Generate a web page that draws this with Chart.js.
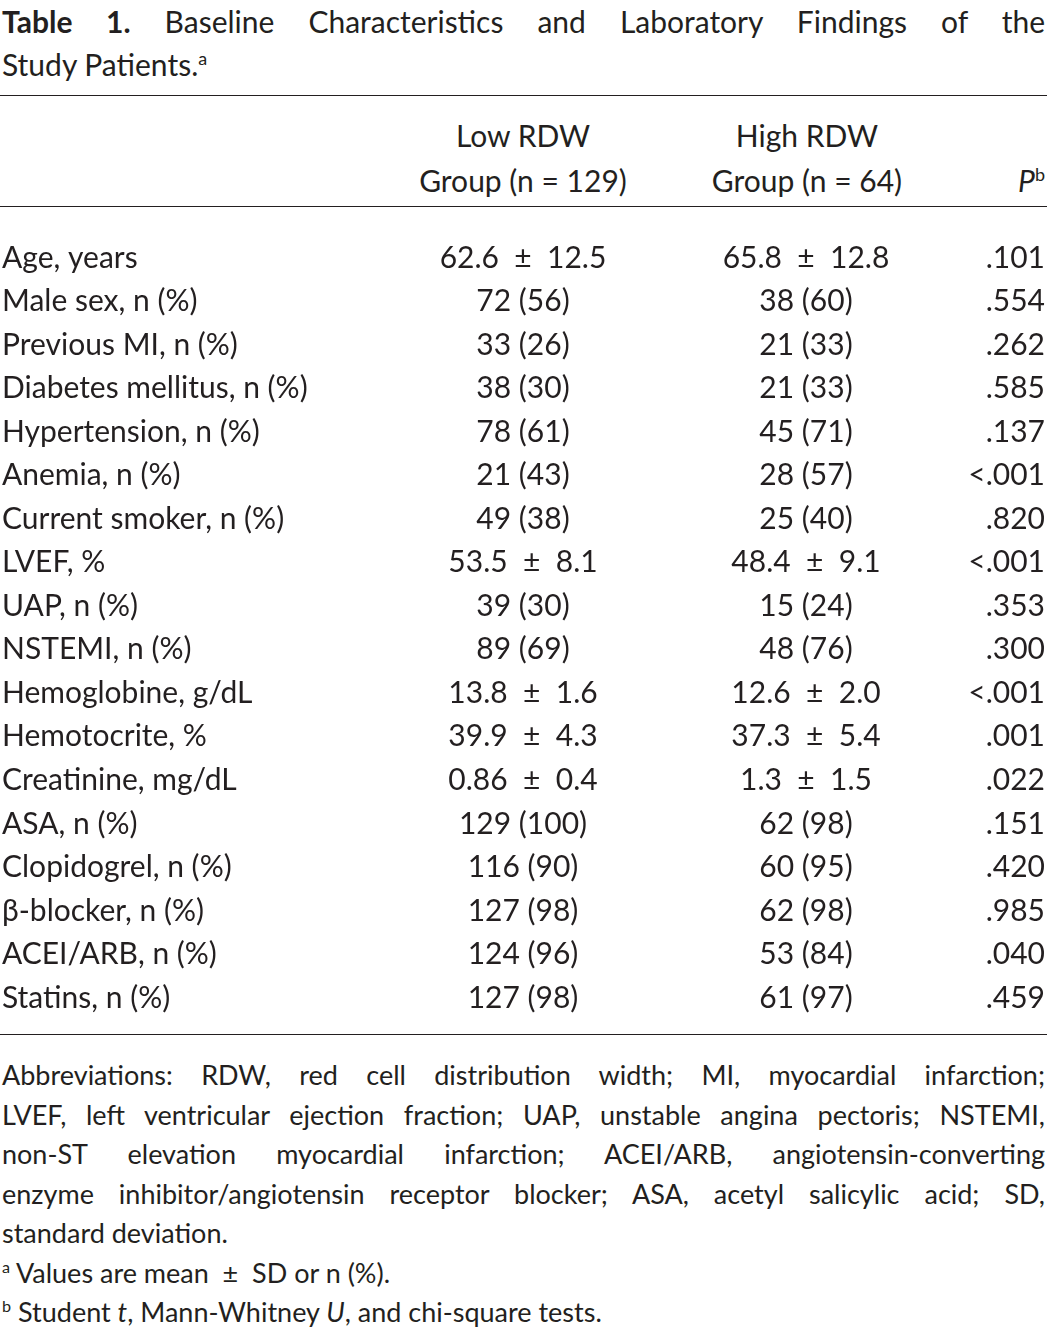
<!DOCTYPE html>
<html>
<head>
<meta charset="utf-8">
<script src="https://cdn.jsdelivr.net/npm/chart.js@4"></script>
<style>
  body { margin: 0; background: #fff; font-family: Lato, "Open Sans", sans-serif; color: #231f20; }
  #page { position: relative; width: 1047px; height: 1329px; }
  #title { position: absolute; left: 2px; top: 0; width: 1043px; font-size: 30px; line-height: 43px; }
  .j { display: block; text-align: justify; text-align-last: justify; white-space: nowrap; }
  .rule { position: absolute; left: 0; width: 1047px; border-top: 1.5px solid #231f20; }
  .hdr { position: absolute; font-size: 30px; line-height: 45px; text-align: center; }
  #wrap { position: absolute; left: 0; top: 207px; width: 1047px; height: 828px; }
  #notes { position: absolute; left: 2px; top: 1055px; width: 1043px; font-size: 27px; line-height: 39.5px; }
  #notes .j { white-space: normal; }
  sup { font-size: 60%; line-height: 0; }
</style>
</head>
<body>
<div id="page">
  <div id="title"><span class="j"><b>Table 1.</b> Baseline Characteristics and Laboratory Findings of the</span>Study Patients.<sup>a</sup></div>
  <div class="rule" style="top:95px"></div>
  <div class="hdr" style="left:373px;width:300px;top:113px">Low RDW<br>Group (n = 129)</div>
  <div class="hdr" style="left:657px;width:300px;top:113px">High RDW<br>Group (n = 64)</div>
  <div class="hdr" style="left:960px;width:85px;top:158px;text-align:right"><i>P</i><sup>b</sup></div>
  <div class="rule" style="top:206px"></div>
  <div id="wrap"><canvas id="tbl"></canvas></div>
  <div class="rule" style="top:1034px"></div>
  <div id="notes">
    <span class="j">Abbreviations: RDW, red cell distribution width; MI, myocardial infarction;</span>
    <span class="j">LVEF, left ventricular ejection fraction; UAP, unstable angina pectoris; NSTEMI,</span>
    <span class="j">non-ST elevation myocardial infarction; ACEI/ARB, angiotensin-converting</span>
    <span class="j">enzyme inhibitor/angiotensin receptor blocker; ASA, acetyl salicylic acid; SD,</span>
    <div>standard deviation.</div>
    <div><sup>a</sup> Values are mean &nbsp;±&nbsp; SD or n (%).</div>
    <div><sup>b</sup> Student <i>t</i>, Mann-Whitney <i>U</i>, and chi-square tests.</div>
  </div>
</div>
<script>
const rowLabels = ["Age, years", "Male sex, n (%)", "Previous MI, n (%)", "Diabetes mellitus, n (%)",
    "Hypertension, n (%)", "Anemia, n (%)", "Current smoker, n (%)", "LVEF, %", "UAP, n (%)",
    "NSTEMI, n (%)", "Hemoglobine, g/dL", "Hemotocrite, %", "Creatinine, mg/dL", "ASA, n (%)",
    "Clopidogrel, n (%)", "β-blocker, n (%)", "ACEI/ARB, n (%)", "Statins, n (%)"];
const lowGroup = ["62.6 ± 12.5", "72 (56)", "33 (26)", "38 (30)", "78 (61)", "21 (43)", "49 (38)",
    "53.5 ± 8.1", "39 (30)", "89 (69)", "13.8 ± 1.6", "39.9 ± 4.3", "0.86 ± 0.4", "129 (100)",
    "116 (90)", "127 (98)", "124 (96)", "127 (98)"];
const highGroup = ["65.8 ± 12.8", "38 (60)", "21 (33)", "21 (33)", "45 (71)", "28 (57)", "25 (40)",
    "48.4 ± 9.1", "15 (24)", "48 (76)", "12.6 ± 2.0", "37.3 ± 5.4", "1.3 ± 1.5", "62 (98)",
    "60 (95)", "62 (98)", "53 (84)", "61 (97)"];
const pValues = [".101", ".554", ".262", ".585", ".137", "<.001", ".820", "<.001", ".353", ".300",
    "<.001", ".001", ".022", ".151", ".420", ".985", ".040", ".459"];

// columns: label (left), low (centre), high (centre), P (right)
const tablePlugin = {
    id: "tableText",
    afterDraw(chart) {
        const ctx = chart.ctx;
        const y = chart.scales.y;
        const x = chart.scales.x;
        ctx.save();
        ctx.fillStyle = "#231f20";
        ctx.font = "30px Lato, 'Open Sans', sans-serif";
        ctx.textBaseline = "middle";
        const wide = s => s.replace(" ± ", "  ±  ");
        rowLabels.forEach((lab, i) => {
            const py = y.getPixelForValue(i);
            ctx.textAlign = "left";
            ctx.fillText(lab, x.getPixelForValue(2), py);
            ctx.textAlign = "center";
            ctx.fillText(wide(lowGroup[i]), x.getPixelForValue(523), py);
            ctx.fillText(wide(highGroup[i]), x.getPixelForValue(806), py);
            ctx.textAlign = "right";
            ctx.fillText(pValues[i], x.getPixelForValue(1045), py);
        });
        ctx.restore();
    }
};

new Chart(document.getElementById("tbl"), {
    type: "line",
    data: { labels: rowLabels, datasets: [] },
    options: {
        responsive: true,
        maintainAspectRatio: false,
        animation: false,
        layout: { padding: { top: 51, bottom: 37, left: 0, right: 0 } },
        plugins: { legend: { display: false }, tooltip: { enabled: false } },
        scales: {
            x: { type: "linear", min: 0, max: 1047, display: false },
            y: { type: "category", offset: false, display: false }
        }
    },
    plugins: [tablePlugin]
});
</script>
</body>
</html>
